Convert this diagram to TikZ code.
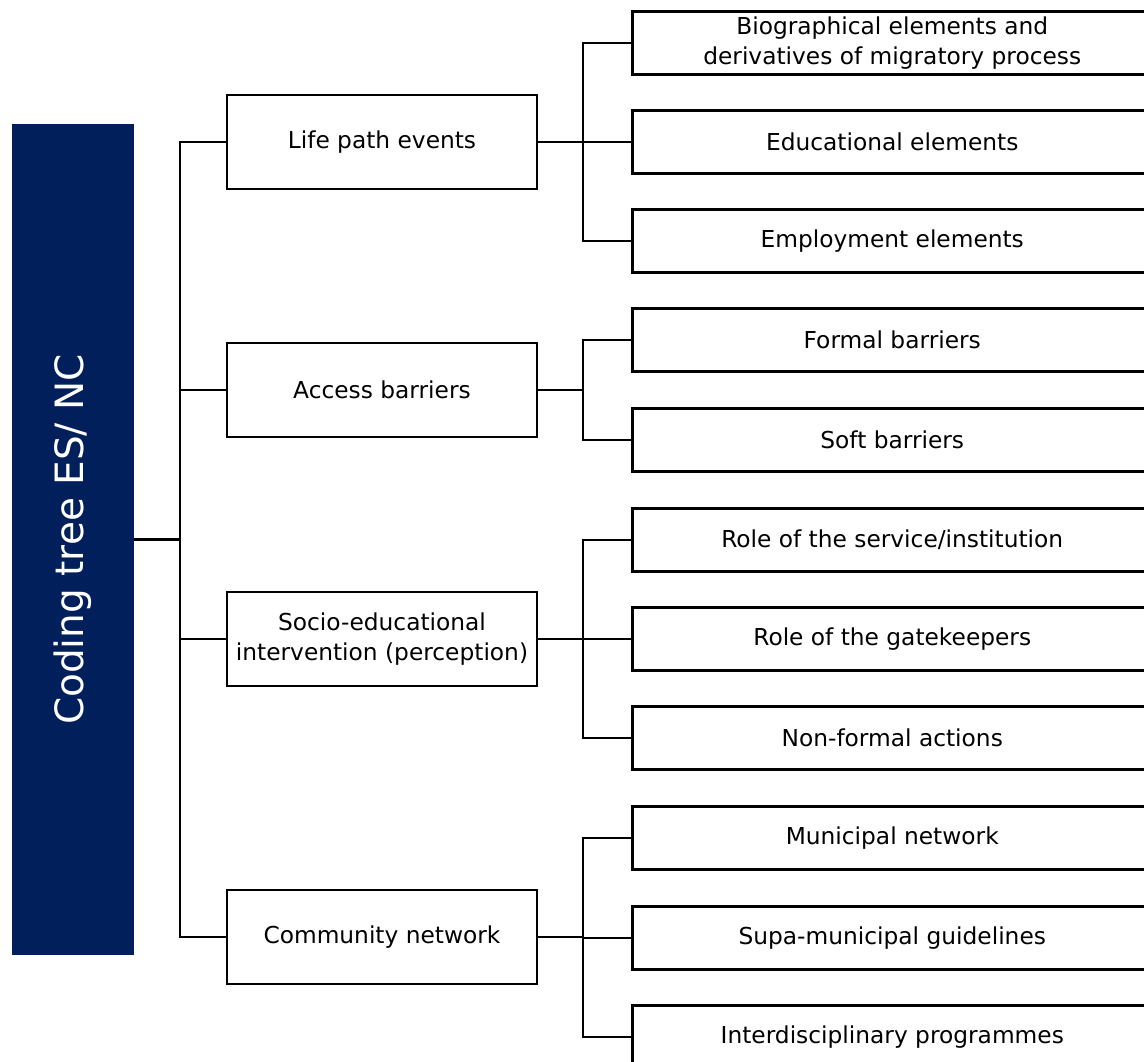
\documentclass[tikz,border=0pt]{standalone}
\usepackage{fontspec}
\setmainfont{DejaVu Sans}
\usetikzlibrary{positioning}
\definecolor{navy}{HTML}{001F5B}
\begin{document}
\begin{tikzpicture}[x=1pt,y=-1pt,
  rootbox/.style={draw=none,fill=navy,text=white,rotate=90,minimum width=831pt,minimum height=122pt,
    font=\fontsize{39}{44}\selectfont,inner sep=0pt},
  catbox/.style={draw,line width=2.5pt,minimum width=310pt,minimum height=94pt,align=center,
    font=\fontsize{23.3}{30}\selectfont,inner sep=0pt},
  leafbox/.style={draw,line width=2.5pt,minimum width=520pt,minimum height=63pt,align=center,anchor=west,
    font=\fontsize{23.3}{30}\selectfont,inner sep=0pt},
  link/.style={line width=2.5pt}]
\clip (0,0) rectangle (1144,1062);
% root
\node[rootbox] (root) at (73,539.5) {Coding tree ES/ NC};
% categories
\node[catbox] (life) at (382,142) {Life path events};
\node[catbox] (access) at (382,390) {Access barriers};
\node[catbox] (socio) at (382,639) {Socio-educational\\intervention (perception)};
\node[catbox] (comm) at (382,937) {Community network};
% leaves
\node[leafbox] (bio) at (631,43) {Biographical elements and\\derivatives of migratory process};
\node[leafbox] (edu) at (631,142) {Educational elements};
\node[leafbox] (emp) at (631,241) {Employment elements};
\node[leafbox] (formal) at (631,340) {Formal barriers};
\node[leafbox] (soft) at (631,440) {Soft barriers};
\node[leafbox] (serv) at (631,540) {Role of the service/institution};
\node[leafbox] (gate) at (631,639) {Role of the gatekeepers};
\node[leafbox] (nonf) at (631,738) {Non-formal actions};
\node[leafbox] (muni) at (631,838) {Municipal network};
\node[leafbox] (supa) at (631,938) {Supa-municipal guidelines};
\node[leafbox] (inter) at (631,1037) {Interdisciplinary programmes};
% trunk
\coordinate (trunk) at (180,539.5);
\draw[link] (root.south) -- (trunk);
\foreach \c in {life,access,socio,comm} \draw[link] (trunk) |- (\c.west);
% sub-branches
\coordinate (jl) at (583,142);
\coordinate (ja) at (583,390);
\coordinate (js) at (583,639);
\coordinate (jc) at (583,937);
\draw[link] (life.east) -- (jl);
\draw[link] (access.east) -- (ja);
\draw[link] (socio.east) -- (js);
\draw[link] (comm.east) -- (jc);
\foreach \l in {bio,edu,emp} \draw[link] (jl) |- (\l.west);
\foreach \l in {formal,soft} \draw[link] (ja) |- (\l.west);
\foreach \l in {serv,gate,nonf} \draw[link] (js) |- (\l.west);
\foreach \l in {muni,supa,inter} \draw[link] (jc) |- (\l.west);
\end{tikzpicture}
\end{document}
